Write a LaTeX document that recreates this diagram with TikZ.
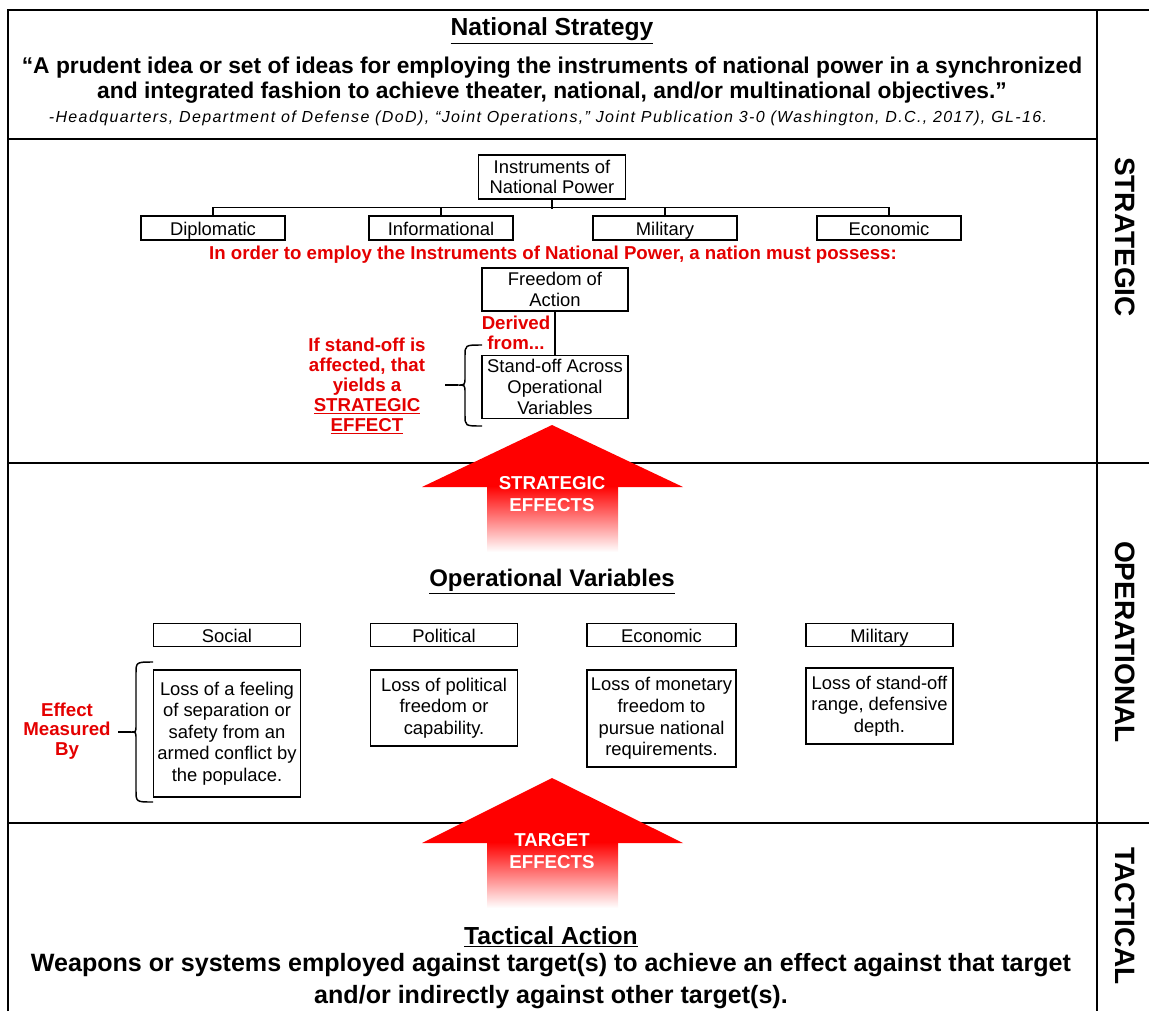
\documentclass[tikz,border=0pt]{standalone}
\usepackage{fontspec}
\setmainfont{Liberation Sans}
\usetikzlibrary{positioning}
\definecolor{arrowred}{RGB}{255,0,0}
\definecolor{notered}{RGB}{228,0,0}

\begin{document}
\begin{tikzpicture}[x=0.75pt, y=-0.75pt,
        gridline/.style={line width=1.1pt},
        ibox/.style={draw, line width=1.1pt, inner sep=0pt, align=center, font=\fontsize{13.8}{15.5}\selectfont},
        hbox/.style={ibox, text height=12pt, text depth=1pt},
        dbox/.style={draw, line width=1.1pt, inner sep=0pt, align=center, font=\fontsize{13.8}{16.2}\selectfont},
        notetxt/.style={text=notered, inner sep=0pt, align=center, font=\bfseries\fontsize{14}{14.6}\selectfont},
        headtxt/.style={inner sep=0pt, align=center, font=\bfseries\fontsize{18.5}{24}\selectfont},
        tiertxt/.style={rotate=-90, inner sep=0pt, font=\bfseries\fontsize{21}{24}\selectfont},
        effecttxt/.style={text=white, inner sep=0pt, align=center, font=\bfseries\fontsize{14}{17}\selectfont}]
                \useasboundingbox (0,0) rectangle (1149,1011);
                
                % table lines
                \draw[gridline] (8,1011) -- (8,10) -- (1149,10);
                \draw[gridline] (1097,10) -- (1097,1011);
                \draw[gridline] (8,139) -- (1097,139);
                \draw[gridline] (8,463) -- (1149,463);
                \draw[gridline] (8,823) -- (1149,823);
                
                % big arrows
                \fill[arrowred] (552,425) -- (683,487) -- (422,487) -- cycle;
                \shade[top color=arrowred, middle color=arrowred, bottom color=white] (487,486) rectangle (618,552);
                \fill[arrowred] (552,778) -- (683,843) -- (422,843) -- cycle;
                \shade[top color=arrowred, middle color=arrowred, bottom color=white] (487,842) rectangle (618,908);
                \node[effecttxt] (steff) at (552,494) {STRATEGIC\\EFFECTS};
                \node[effecttxt] (tgeff) at (552,851) {TARGET\\EFFECTS};
                
                % strategic
                \node[headtxt] (natstrat) at (552,31) {\underline{National Strategy}};
                \node[headtxt, font=\bfseries\fontsize{17.1}{18.4}\selectfont] (quote) at (552,80) {“A prudent idea or set of ideas for employing the instruments of national power in a synchronized\\and integrated fashion to achieve theater, national, and/or multinational objectives.”};
                \node[inner sep=0pt, font=\itshape\fontsize{12}{13}\selectfont\addfontfeature{LetterSpace=8.6}] (cite) at (548,118) {-Headquarters, Department of Defense (DoD), “Joint Operations,” Joint Publication 3-0 (Washington, D.C., 2017), GL-16.};
                
                \node[ibox, minimum width=110pt, minimum height=33pt] (ionp) at (552,177) {Instruments of\\National Power};
                \node[hbox, minimum width=108pt, minimum height=18pt] (dipl) at (213,228) {Diplomatic};
                \node[hbox, minimum width=108pt, minimum height=18pt] (info) at (441,228) {Informational};
                \node[hbox, minimum width=108pt, minimum height=18pt] (mili) at (665,228) {Military};
                \node[hbox, minimum width=108pt, minimum height=18pt] (econ) at (889,228) {Economic};
                
                \draw[line width=1.1pt] (ionp.south) -- ++(0,9);
                \draw[line width=1.1pt] (dipl.north) -- ++(0,-8) -| (econ.north);
                \draw[line width=1.1pt] (info.north) -- ++(0,-8);
                \draw[line width=1.1pt] (mili.north) -- ++(0,-8);
                
                \node[notetxt] (possess) at (553,255) {In order to employ the Instruments of National Power, a nation must possess:};
                
                \node[ibox, minimum width=109.5pt, minimum height=32.25pt] (freedom) at (555,289.5) {Freedom of\\Action};
                \node[ibox, minimum width=109.5pt, minimum height=47.25pt] (standoff) at (555,387) {Stand-off Across\\Operational\\Variables};
                \draw[line width=1.1pt] (freedom) -- (standoff);
                \node[notetxt] (derived) at (516,333) {Derived\\from...};
                
                \draw[line width=1.1pt] (482,345) .. controls (465,345) .. (465,356) -- (465,377) .. controls (465,385) .. (458,385) .. controls (465,385) .. (465,393) -- (465,415) .. controls (465,426) .. (482,426);
                \coordinate (sotip) at (458,385);
                \node[notetxt, font=\bfseries\fontsize{14}{15}\selectfont] (stratfx) at (367,386) {If stand-off is\\affected, that\\yields a\\\underline{STRATEGIC}\\\underline{EFFECT}};
                \draw[line width=1.1pt] (sotip) -- ++(-13,0);
                
                % operational
                \node[headtxt, font=\bfseries\fontsize{18}{22}\selectfont] (opvars) at (552,582) {\underline{Operational Variables}};
                
                \node[hbox, minimum width=110pt, minimum height=17.25pt] (social) at (227,635) {Social};
                \node[hbox, minimum width=110pt, minimum height=17.25pt] (polit) at (444,635) {Political};
                \node[hbox, minimum width=111.75pt, minimum height=17.25pt] (econo) at (661.5,635) {Economic};
                \node[hbox, minimum width=110pt, minimum height=17.25pt] (milit) at (879.5,635) {Military};
                
                \node[dbox, minimum width=110pt, minimum height=95.25pt] (sociald) at (227,733.5) {Loss of a feeling\\of separation or\\safety from an\\armed conflict by\\the populace.};
                \node[dbox, minimum width=110pt, minimum height=57pt] (politd) at (444,708) {Loss of political\\freedom or\\capability.};
                \node[dbox, minimum width=111.75pt, minimum height=72.75pt] (econod) at (661.5,718.5) {Loss of monetary\\freedom to\\pursue national\\requirements.};
                \node[dbox, minimum width=110pt, minimum height=57pt] (militd) at (879.5,706) {Loss of stand-off\\range, defensive\\depth.};
                
                \draw[line width=1.1pt] (153,662) .. controls (136,662) .. (136,674) -- (136,725) .. controls (136,732) .. (131,732) .. controls (136,732) .. (136,739) -- (136,790) .. controls (136,802) .. (153,802);
                \coordinate (smtip) at (131,732);
                \node[notetxt] (measured) at (67,731) {Effect\\Measured\\By};
                \draw[line width=1.1pt] (smtip) -- ++(-13,0);
                
                % tactical
                \node[headtxt] (tacact) at (551,937) {\underline{Tactical Action}};
                \node[headtxt, font=\bfseries\fontsize{18.8}{24}\selectfont] (weapons) at (551,981) {Weapons or systems employed against target(s) to achieve an effect against that target\\and/or indirectly against other target(s).};
                
                % levels
                \node[tiertxt] (strategic) at (1125,237) {STRATEGIC};
                \node[tiertxt] (operational) at (1125,642) {OPERATIONAL};
                \node[tiertxt] (tactical) at (1125,916) {TACTICAL};
\end{tikzpicture}
\end{document}
